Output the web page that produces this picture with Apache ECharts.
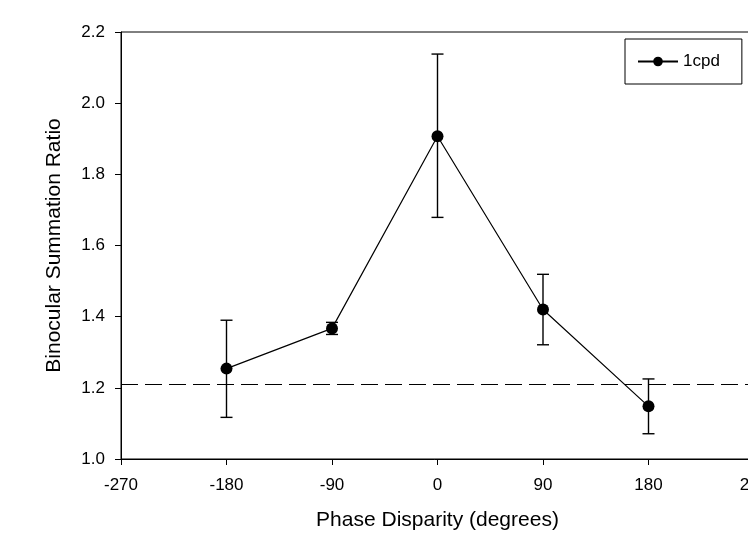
<!DOCTYPE html>
<html>
<head>
<meta charset="utf-8">
<script src="https://cdn.jsdelivr.net/npm/echarts@6/dist/echarts.min.js"></script>
<style>
  html, body { margin: 0; padding: 0; background: #fff; }
  #chart { width: 748px; height: 536px; }
</style>
</head>
<body>
<div id="chart"></div>
<script>
// phase disparity (deg) and binocular summation ratio
const disparity = [-180, -90, 0, 90, 180];
const ratio = [1.254, 1.367, 1.907, 1.420, 1.148];
const errLow = [1.117, 1.350, 1.679, 1.321, 1.071];
const errHigh = [1.390, 1.384, 2.138, 1.519, 1.225];
const refLine = 1.212;

const xTicks = [-270, -180, -90, 0, 90, 180, 270];
const yTicks = [1.0, 1.2, 1.4, 1.6, 1.8, 2.0, 2.2];

const fontFamily = '"Liberation Sans", Arial, sans-serif';

const chart = echarts.init(document.getElementById('chart'));

const points = disparity.map((d, i) => [d, ratio[i]]);
const bars = disparity.map((d, i) => [d, errLow[i], errHigh[i]]);

const renderErrorBar = (params, api) => {
    const x = api.value(0);
    const lo = api.coord([x, api.value(1)]);
    const hi = api.coord([x, api.value(2)]);
    const cap = 6;
    const style = { stroke: '#000', lineWidth: 1.4 };
    return {
        type: 'group',
        children: [
            { type: 'line', shape: { x1: lo[0], y1: lo[1], x2: hi[0], y2: hi[1] }, style: style },
            { type: 'line', shape: { x1: hi[0] - cap, y1: hi[1], x2: hi[0] + cap, y2: hi[1] }, style: style },
            { type: 'line', shape: { x1: lo[0] - cap, y1: lo[1], x2: lo[0] + cap, y2: lo[1] }, style: style }
        ]
    };
};

const option = {
    animation: false,
    textStyle: { fontFamily: fontFamily },
    grid: {
        left: 121,
        top: 32,
        width: 633,
        height: 427,
        outerBoundsMode: 'none',
        containLabel: false,
        show: true,
        borderColor: '#000',
        borderWidth: 1
    },
    legend: {
        data: ['1cpd'],
        left: 625,
        top: 39,
        padding: [14, 22, 14, 12],
        borderColor: '#000',
        borderWidth: 1,
        itemWidth: 40,
        itemHeight: 12,
        itemGap: 10,
        textStyle: { color: '#000', fontSize: 17, fontFamily: fontFamily }
    },
    xAxis: {
        type: 'value',
        min: xTicks[0],
        max: xTicks[xTicks.length - 1],
        interval: 90,
        name: 'Phase Disparity (degrees)',
        nameLocation: 'middle',
        nameGap: 51,
        nameTextStyle: { color: '#000', fontSize: 21, fontFamily: fontFamily },
        axisLine: { onZero: false, lineStyle: { color: '#000', width: 1 } },
        axisTick: { length: 6, lineStyle: { color: '#000' } },
        axisLabel: { color: '#000', fontSize: 17, margin: 18 },
        splitLine: { show: false }
    },
    yAxis: {
        type: 'value',
        min: yTicks[0],
        max: yTicks[yTicks.length - 1],
        interval: 0.2,
        name: 'Binocular Summation Ratio',
        nameLocation: 'middle',
        nameGap: 56,
        nameTextStyle: { color: '#000', fontSize: 21, fontFamily: fontFamily },
        axisLine: { show: true, onZero: false, lineStyle: { color: '#000', width: 1 } },
        axisTick: { show: true, length: 6, lineStyle: { color: '#000' } },
        axisLabel: { color: '#000', fontSize: 17, margin: 16, formatter: v => v.toFixed(1) },
        splitLine: { show: false }
    },
    series: [
        {
            name: 'errors',
            type: 'custom',
            renderItem: renderErrorBar,
            data: bars,
            encode: { x: 0, y: [1, 2] },
            z: 3
        },
        {
            name: '1cpd',
            type: 'line',
            data: points,
            symbol: 'circle',
            symbolSize: 12,
            itemStyle: { color: '#000' },
            lineStyle: { color: '#000', width: 1.2 },
            z: 4,
            markLine: {
                silent: true,
                symbol: 'none',
                label: { show: false },
                lineStyle: { color: '#000', type: [17, 7], width: 1.2 },
                data: [{ yAxis: refLine }]
            }
        }
    ]
};

chart.setOption(option);
</script>
</body>
</html>
